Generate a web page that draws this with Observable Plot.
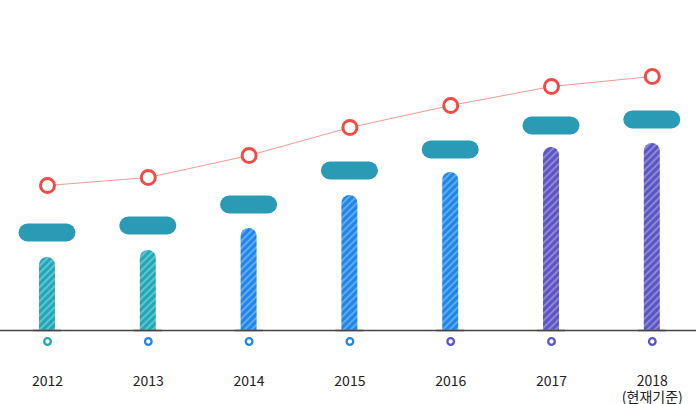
<!DOCTYPE html>
<div id="plot"></div>
<script src="https://cdn.jsdelivr.net/npm/d3@7"></script>
<script src="https://cdn.jsdelivr.net/npm/@observablehq/plot@0.6"></script>
<script>

const years = [2012, 2013, 2014, 2015, 2016, 2017, 2018];
const yearLabels = ['2012', '2013', '2014', '2015', '2016', '2017', '2018\n(현재기준)'];
const barValues = [73, 80, 102, 135, 158, 183, 187];
const pillValues = [98, 105, 126, 160, 181, 205, 211];
const lineValues = [145, 153, 175, 203, 225, 244, 254];
const barGroups = ['teal', 'teal', 'blue', 'blue', 'blue', 'purple', 'purple'];
const dotGroups = ['teal', 'blue', 'blue', 'blue', 'purple', 'purple', 'purple'];

const colors = {teal: '#20a8b8', blue: '#1f86ea', purple: '#5c56c4'};

const data = years.map((year, i) => ({
	year,
	label: yearLabels[i],
	bar: barValues[i],
	pill: pillValues[i],
	line: lineValues[i],
	barGroup: barGroups[i],
	dotGroup: dotGroups[i],
}));

const plot = Plot.plot({
	width: 696,
	height: 404,
	marginTop: 0,
	marginBottom: 74,
	marginLeft: 18.5,
	marginRight: 15.7,
	x: { type: 'band', domain: years, paddingInner: 0.4345, paddingOuter: 0, round: false, axis: null },
	y: { domain: [0, 330], axis: null },
	color: { type: 'identity' },
	style: { fontFamily: "'Noto Sans CJK KR', 'Noto Sans', sans-serif", fontSize: '14px', color: '#222' },
	marks: [
		Plot.barY(data, { x: 'year', y: 'bar', fill: d => `url(#hatch-${d.barGroup})`,
		                  insetLeft: 20.5, insetRight: 20.5, insetBottom: -12, rx: 8, ry: 8, clip: true }),
		Plot.tickY(data, { x: 'year', y: 0, insetLeft: 14.5, insetRight: 14.5, stroke: '#888', strokeOpacity: 0.35, strokeWidth: 3 }),
		Plot.ruleY([0], { stroke: '#444', strokeWidth: 1.3, insetLeft: -18.5, insetRight: -15.7 }),
		Plot.tickY(data, { x: 'year', y: 'pill', stroke: '#2a9bb5', strokeWidth: 18, strokeLinecap: 'round',
		                   insetLeft: 9, insetRight: 9 }),
		Plot.line(data, { x: 'year', y: 'line', stroke: '#f29a98', strokeWidth: 1 }),
		Plot.dot(data, { x: 'year', y: 'line', r: 7, stroke: '#f24b46', strokeWidth: 3, fill: 'white' }),
		Plot.dot(data, { x: 'year', frameAnchor: 'bottom', dy: 11, r: 3.3, strokeWidth: 2.3, fill: 'white',
		                 stroke: d => colors[d.dotGroup] }),
		Plot.text(data, { x: 'year', text: 'label', frameAnchor: 'bottom', dy: 44, lineAnchor: 'top',
		                  lineHeight: 1.15, fill: '#222' }),
	],
});

let defs = '<defs>';
for (let [name, color] of Object.entries(colors)) {
	defs += `<pattern id="hatch-${name}" patternUnits="userSpaceOnUse" width="5" height="5" patternTransform="rotate(45)">
		<rect width="5" height="5" fill="${color}"></rect>
		<line x1="1" y1="0" x2="1" y2="5" stroke="white" stroke-width="1.3" stroke-opacity="0.45"></line>
	</pattern>`;
}
defs += '</defs>';
plot.insertAdjacentHTML('afterbegin', defs);

document.querySelector('#plot').append(plot);

</script>
<style>

html, body {
	margin: 0;
	background: white;
}

</style>
